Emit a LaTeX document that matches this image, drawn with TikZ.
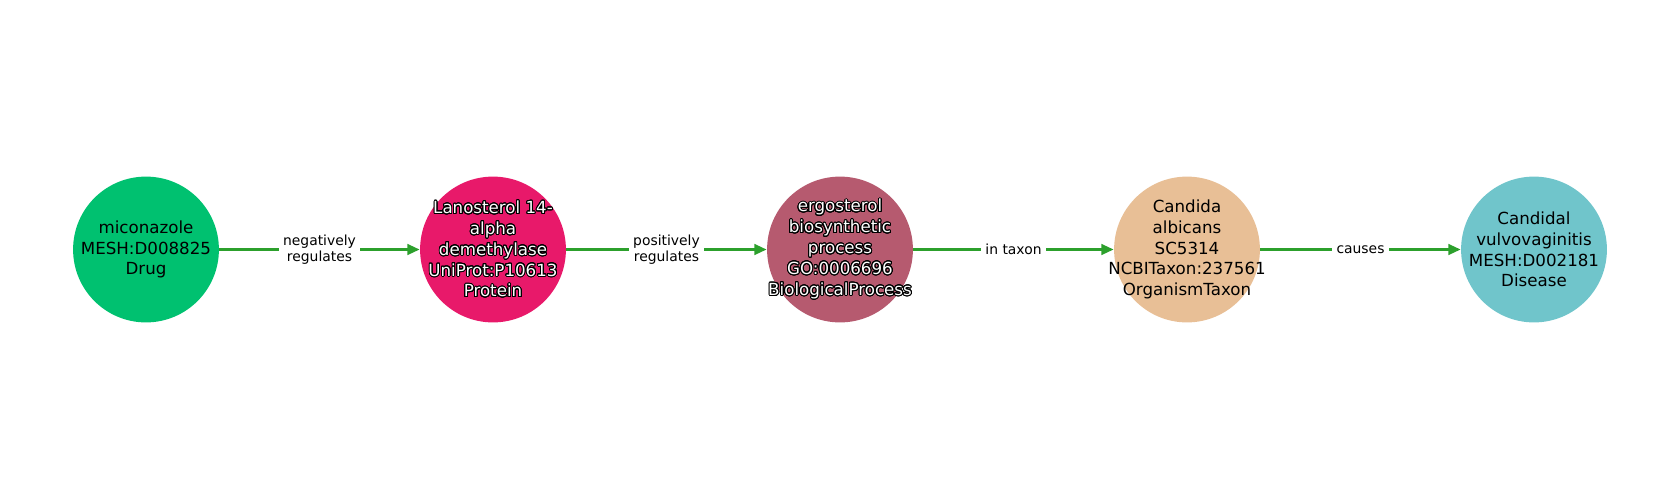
\documentclass[tikz,border=0pt]{standalone}
\usepackage{fontspec}
\setmainfont{DejaVu Sans}
\usepackage[copies]{contour}
\contourlength{0.7pt}
\contournumber{24}
\usetikzlibrary{arrows.meta}
\definecolor{cdrug}{HTML}{00C170}
\definecolor{cprot}{HTML}{E8196A}
\definecolor{cbio}{HTML}{B65A6F}
\definecolor{ctax}{HTML}{E8BF96}
\definecolor{cdis}{HTML}{70C5CB}
\definecolor{cedge}{HTML}{2CA02C}
\newcommand{\wtxt}[1]{\contour{black}{\textcolor{white}{#1}}}
\tikzset{
  ent/.style={circle, minimum size=105pt, inner sep=0pt},
  etext/.style={inner sep=0pt, align=center, font=\fontsize{12}{15}\selectfont, text=black},
  edge/.style={draw=cedge, line width=2.8pt, -{Triangle[length=9pt,width=7.5pt]}},
  elabel/.style={fill=white, inner sep=3pt, align=center, font=\fontsize{10}{11.8}\selectfont, text=black}
}
\begin{document}
\begin{tikzpicture}[x=0.72pt,y=-0.72pt]
\useasboundingbox (0,0) rectangle (1680,500);
\node[ent, fill=cdrug] (a) at (146,249.5) {};
\node[ent, fill=cprot] (b) at (493,249.5) {};
\node[ent, fill=cbio] (c) at (840,249.5) {};
\node[ent, fill=ctax] (d) at (1187,249.5) {};
\node[ent, fill=cdis] (e) at (1534,249.5) {};
\node[etext] (ta) at (a.center) {miconazole\\MESH:D008825\\Drug};
\node[etext] (tb) at (b.center) {\wtxt{Lanosterol 14-}\\\wtxt{alpha}\\\wtxt{demethylase}\\\wtxt{UniProt:P10613}\\\wtxt{Protein}};
\node[etext] (tc) at (c.center) {\wtxt{ergosterol}\\\wtxt{biosynthetic}\\\wtxt{process}\\\wtxt{GO:0006696}\\\wtxt{BiologicalProcess}};
\node[etext] (td) at (d.center) {Candida\\albicans\\SC5314\\NCBITaxon:237561\\OrganismTaxon};
\node[etext] (te) at (e.center) {Candidal\\vulvovaginitis\\MESH:D002181\\Disease};
\draw[edge] (a) -- node[elabel] (l1) {negatively\\regulates} (b);
\draw[edge] (b) -- node[elabel] (l2) {positively\\regulates} (c);
\draw[edge] (c) -- node[elabel] (l3) {in taxon} (d);
\draw[edge] (d) -- node[elabel] (l4) {causes} (e);
\end{tikzpicture}
\end{document}
